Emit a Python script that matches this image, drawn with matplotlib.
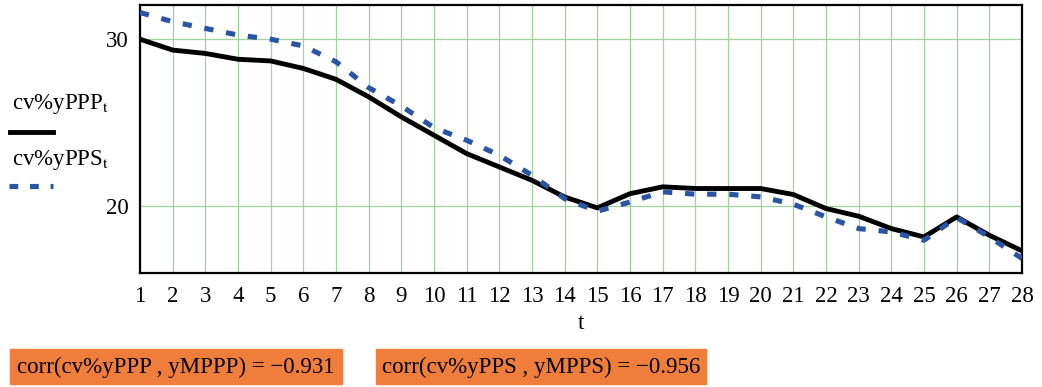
import matplotlib
matplotlib.use("Agg")
import matplotlib.pyplot as plt
from matplotlib.lines import Line2D

t = list(range(1, 29))
cv_yPPP = [30.0, 29.35, 29.15, 28.8, 28.7, 28.25, 27.6, 26.55, 25.35, 24.25, 23.15, 22.35, 21.55, 20.55,
           19.9, 20.75, 21.16, 21.06, 21.06, 21.06, 20.7, 19.86, 19.4, 18.66, 18.16, 19.36, 18.26, 17.33]
cv_yPPS = [31.6, 31.05, 30.65, 30.25, 30.0, 29.6, 28.65, 27.1, 26.0, 24.7, 23.95, 23.05, 21.85, 20.45,
           19.7, 20.25, 20.86, 20.72, 20.72, 20.56, 20.12, 19.36, 18.66, 18.46, 17.96, 19.32, 18.16, 16.87]
y_ticks = [20, 30]
corr_labels = ["corr(cv%yPPP , yMPPP) = \u22120.931", "corr(cv%yPPS , yMPPS) = \u22120.956"]

plt.rcParams['font.family'] = ['Liberation Serif', 'DejaVu Serif']
plt.rcParams['mathtext.fontset'] = 'stix'

W, H = 1042, 387
FS = 16.5
fig = plt.figure(figsize=(W / 100, H / 100), dpi=100)
ax = fig.add_axes([140 / W, 1 - 273 / H, (1022 - 140) / W, (273 - 5) / H])

grid_c = '#9ed39a'
for x in t:
    ax.axvline(x, color=grid_c, lw=0.9, zorder=0)
for y in y_ticks:
    ax.axhline(y, color=grid_c, lw=0.9, zorder=0)

blue = '#2a55a5'
dash = (0, (1.8, 2.5))
ax.plot(t, cv_yPPP, color='black', lw=3.5, zorder=3, solid_joinstyle='round')
ax.plot(t, cv_yPPS, color=blue, lw=3.7, ls=dash, zorder=4)

ax.set_xlim(1, 28)
ax.set_ylim(16.0, 32.05)
ax.set_xticks(t)
ax.set_xticklabels([str(v) for v in t], fontsize=FS)
ax.set_yticks(y_ticks)
ax.set_yticklabels([str(v) for v in y_ticks], fontsize=FS)
ax.tick_params(length=0, pad=8)
ax.tick_params(axis='x', pad=9)
for s in ax.spines.values():
    s.set_linewidth(1.6)
    s.set_color('black')
ax.set_xlabel('t', fontsize=FS, labelpad=5)

# legend at left
fig.text(12 / W, 1 - 104 / H, r'cv%yPPP$_{\mathrm{t}}$', fontsize=FS, va='center', ha='left')
fig.add_artist(Line2D([10 / W, 53 / W], [1 - 132 / H, 1 - 132 / H], color='black', lw=3.5,
                      transform=fig.transFigure))
fig.text(12 / W, 1 - 160 / H, r'cv%yPPS$_{\mathrm{t}}$', fontsize=FS, va='center', ha='left')
fig.add_artist(Line2D([9 / W, 53 / W], [1 - 186 / H, 1 - 186 / H], color=blue, lw=3.7,
                      ls=(0, (1.7, 2.3)), transform=fig.transFigure))

# orange boxes
orange = '#ef7d3c'
boxes = [(10, 342), (376, 706)]
for (x0, x1), lab in zip(boxes, corr_labels):
    fig.patches.append(plt.Rectangle((x0 / W, 1 - 384 / H), (x1 - x0) / W, 35 / H,
                                     transform=fig.transFigure, color=orange, zorder=1))
    fig.text((x0 + x1) / 2 / W, 1 - 367 / H, lab, fontsize=FS, ha='center', va='center', zorder=2)

fig.savefig('out.png', dpi=100, facecolor='white')
